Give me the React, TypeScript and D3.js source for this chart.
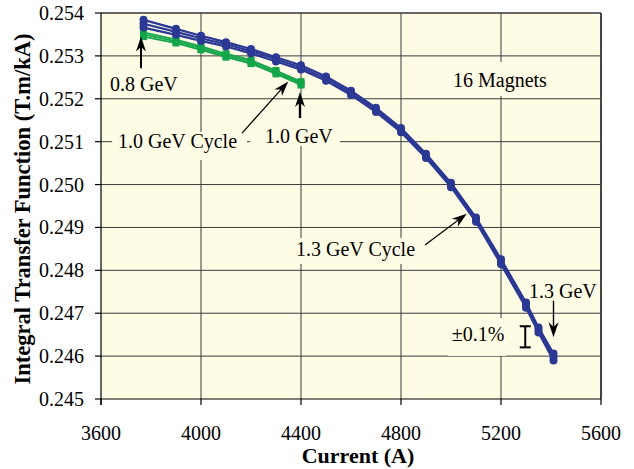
import React from "react";
import * as d3 from "d3";

const blueCurrents = [3770, 3900, 4000, 4100, 4200, 4300, 4400, 4500, 4600, 4700, 4800, 4900, 5000, 5100, 5200, 5300, 5350, 5410];
const blueUpper = [0.25384, 0.25363, 0.25347, 0.25332, 0.25316, 0.25297, 0.25278, 0.25252, 0.25219, 0.25179, 0.25132, 0.25072, 0.25004, 0.24923, 0.24826, 0.24725, 0.24667, 0.24606];
const blueMiddle = [0.25375, 0.25356, 0.25341, 0.25327, 0.25311, 0.25292, 0.25273, 0.25247, 0.25214, 0.25174, 0.25127, 0.25067, 0.24999, 0.24918, 0.2482, 0.24719, 0.24661, 0.24598];
const blueLower = [0.25366, 0.25349, 0.25335, 0.25322, 0.25306, 0.25287, 0.25268, 0.25242, 0.25209, 0.25169, 0.25122, 0.25062, 0.24994, 0.24913, 0.24814, 0.24713, 0.24655, 0.2459];

const greenCurrents = [3770, 3900, 4000, 4100, 4200, 4300, 4400];
const greenUpper = [0.25355, 0.25338, 0.25322, 0.25305, 0.2529, 0.25266, 0.2524];
const greenMiddle = [0.2535, 0.25334, 0.25318, 0.25301, 0.25286, 0.25262, 0.25236];
const greenLower = [0.25345, 0.2533, 0.25314, 0.25297, 0.25282, 0.25258, 0.25232];

const xTicks = [3600, 4000, 4400, 4800, 5200, 5600];
const yTicks = [0.245, 0.246, 0.247, 0.248, 0.249, 0.25, 0.251, 0.252, 0.253, 0.254];

const W = 634, H = 469;
const left = 101, right = 601, top = 13, bottom = 399;
const BLUE = "#2B3894";
const GREEN = "#14A54A";
const BG = "#FFFCE6";
const FONT = "'Liberation Serif', 'Times New Roman', serif";

const x = d3.scaleLinear().domain([3600, 5600]).range([left, right]);
const y = d3.scaleLinear().domain([0.245, 0.254]).range([bottom, top]);

// annotation boxes (cream) covering grid: [x0, x1, y0, y1] in data units
const boxes: [number, number, number, number][] = [
  [3644, 4184, 0.251226, 0.250573],
  [4196, 4556, 0.25195, 0.2509],
  [4988, 5420, 0.252858, 0.252065],
  [4364, 4876, 0.248755, 0.248149],
  [4988, 5220, 0.24689, 0.246005],
];

const labels = [
  { text: "0.8 GeV", cx: 3636, cy: 0.25219 },
  { text: "1.0 GeV Cycle", cx: 3668, cy: 0.25086 },
  { text: "1.0 GeV", cx: 4256, cy: 0.25097 },
  { text: "16 Magnets", cx: 5008, cy: 0.252275 },
  { text: "1.3 GeV Cycle", cx: 4380, cy: 0.24834 },
  { text: "1.3 GeV", cx: 5312, cy: 0.24736 },
  { text: "\u00B10.1%", cx: 5003, cy: 0.24635 },
];

const arrows = [
  { x1: 3760, y1: 0.25271, x2: 3760, y2: 0.25345, w: 2 },
  { x1: 4164, y1: 0.2512, x2: 4349, y2: 0.2524, w: 1.2 },
  { x1: 4396, y1: 0.25155, x2: 4396, y2: 0.25216, w: 2.4 },
  { x1: 4896, y1: 0.24859, x2: 5063, y2: 0.24932, w: 1.2 },
  { x1: 5410, y1: 0.24729, x2: 5410, y2: 0.24644, w: 1.4 },
];

const errCurrent = 5297;
const errCenter = 0.24645;
const errHalf = 0.000246;

function Arrow({ x1, y1, x2, y2, w }: { x1: number; y1: number; x2: number; y2: number; w: number }) {
  const X1 = x(x1), Y1 = y(y1), X2 = x(x2), Y2 = y(y2);
  const ang = Math.atan2(Y2 - Y1, X2 - X1);
  const len = 15, half = 5;
  const bx = X2 - len * Math.cos(ang), by = Y2 - len * Math.sin(ang);
  const px = -Math.sin(ang) * half, py = Math.cos(ang) * half;
  const nx = X2 - (len * 0.7) * Math.cos(ang), ny = Y2 - (len * 0.7) * Math.sin(ang);
  return (
    <g>
      <line x1={X1} y1={Y1} x2={nx} y2={ny} stroke="#000" strokeWidth={w} />
      <path d={`M${X2},${Y2} L${bx + px},${by + py} L${nx},${ny} L${bx - px},${by - py} Z`} fill="#000" />
    </g>
  );
}

export default function App() {
  const line = d3.line<[number, number]>().x((d) => x(d[0])).y((d) => y(d[1]));
  const blueSeries = [blueUpper, blueMiddle, blueLower];
  const greenSeries = [greenUpper, greenMiddle, greenLower];
  return (
    <svg width={W} height={H} style={{ position: "absolute", left: 0, top: 0, background: "#fff" }} fontFamily={FONT}>
      <rect x={left} y={top} width={right - left} height={bottom - top} fill={BG} />
      {xTicks.slice(1, -1).map((t) => (
        <line key={"gx" + t} x1={x(t)} x2={x(t)} y1={top} y2={bottom} stroke="#3a3a3a" strokeWidth={1} />
      ))}
      {yTicks.slice(1, -1).map((t) => (
        <line key={"gy" + t} x1={left} x2={right} y1={y(t)} y2={y(t)} stroke="#3a3a3a" strokeWidth={1} />
      ))}
      {boxes.map((b, i) => (
        <rect key={"b" + i} x={x(b[0])} y={y(b[2])} width={x(b[1]) - x(b[0])} height={y(b[3]) - y(b[2])} fill={BG} />
      ))}
      {/* frame */}
      <line x1={left} x2={right} y1={top} y2={top} stroke="#333" strokeWidth={1.6} />
      <line x1={right} x2={right} y1={top} y2={bottom} stroke="#444" strokeWidth={2} />
      <line x1={left} x2={right} y1={bottom} y2={bottom} stroke="#000" strokeWidth={1.2} />
      <line x1={left} x2={left} y1={top} y2={bottom + 6} stroke="#000" strokeWidth={1.2} />
      {xTicks.map((t) => (
        <g key={"xt" + t}>
          <line x1={x(t)} x2={x(t)} y1={bottom} y2={bottom + 6} stroke="#000" strokeWidth={1.2} />
          <text x={x(t)} y={440} textAnchor="middle" fontSize={20}>{t}</text>
        </g>
      ))}
      {yTicks.map((t) => (
        <g key={"yt" + t}>
          <line x1={left - 6} x2={left} y1={y(t)} y2={y(t)} stroke="#000" strokeWidth={1.2} />
          <text x={84} y={y(t) + 7} textAnchor="end" fontSize={20}>{t.toFixed(3)}</text>
        </g>
      ))}
      <text x={358} y={463} textAnchor="middle" fontSize={22} fontWeight="bold">Current (A)</text>
      <text transform={`translate(30,209) rotate(-90)`} textAnchor="middle" fontSize={22.5} fontWeight="bold">
        Integral Transfer Function (T.m/kA)
      </text>
      {/* green series */}
      {greenSeries.map((s, i) => (
        <path key={"gl" + i} d={line(greenCurrents.map((c, j) => [c, s[j]]))!} fill="none" stroke={GREEN} strokeWidth={1.8} />
      ))}
      {greenSeries.map((s, i) =>
        greenCurrents.map((c, j) => (
          <rect key={"gm" + i + "-" + j} x={x(c) - 3.5} y={y(s[j]) - 3.5} width={7} height={7} fill={GREEN} />
        ))
      )}
      {/* blue series */}
      {blueSeries.map((s, i) => (
        <path key={"bl" + i} d={line(blueCurrents.map((c, j) => [c, s[j]]))!} fill="none" stroke={BLUE} strokeWidth={2.2} />
      ))}
      {blueSeries.map((s, i) =>
        blueCurrents.map((c, j) => (
          <circle key={"bm" + i + "-" + j} cx={x(c)} cy={y(s[j])} r={4} fill={BLUE} />
        ))
      )}
      {labels.map((l, i) => (
        <text key={"lab" + i} x={x(l.cx)} y={y(l.cy)} fontSize={20}>{l.text}</text>
      ))}
      {arrows.map((a, i) => (
        <Arrow key={"ar" + i} {...a} />
      ))}
      <g stroke="#000" strokeWidth={2}>
        <line x1={x(errCurrent)} x2={x(errCurrent)} y1={y(errCenter - errHalf)} y2={y(errCenter + errHalf)} />
        <line x1={x(errCurrent) - 5.5} x2={x(errCurrent) + 5.5} y1={y(errCenter - errHalf)} y2={y(errCenter - errHalf)} />
        <line x1={x(errCurrent) - 5.5} x2={x(errCurrent) + 5.5} y1={y(errCenter + errHalf)} y2={y(errCenter + errHalf)} />
      </g>
    </svg>
  );
}
